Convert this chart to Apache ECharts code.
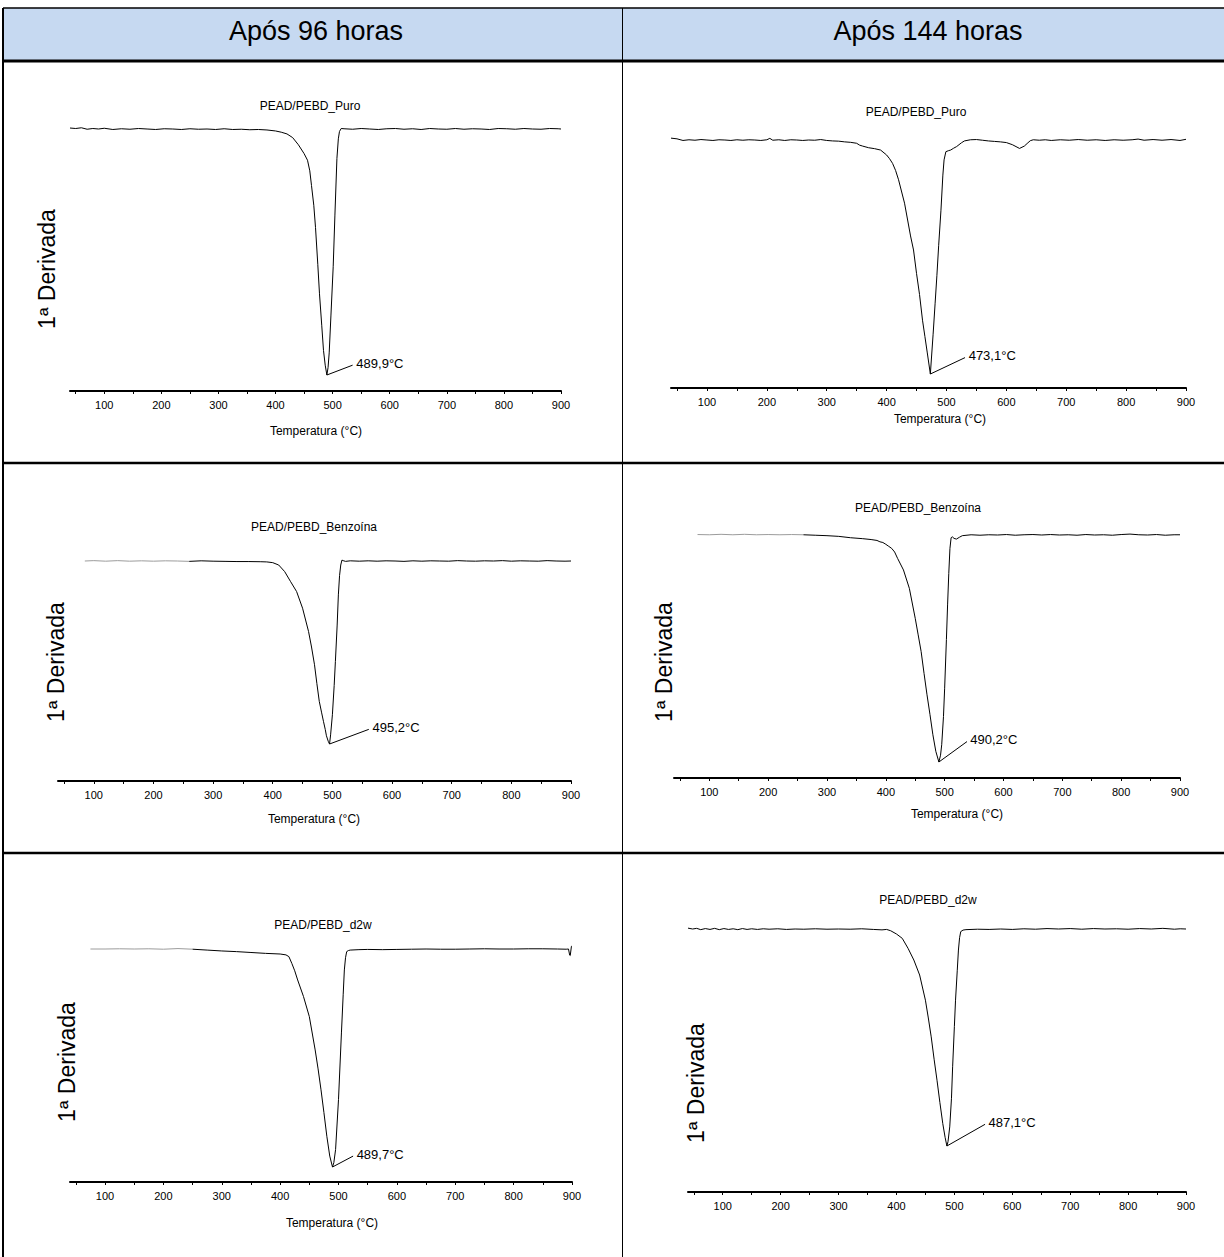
<!DOCTYPE html>
<html><head><meta charset="utf-8">
<script src="https://cdn.jsdelivr.net/npm/echarts@6/dist/echarts.min.js"></script>
<style>html,body{margin:0;padding:0;background:#fff}#c{width:1224px;height:1257px}</style>
</head><body><div id="c"></div>
<script>
// ---------- DATA ----------
const headers = ['Após 96 horas', 'Após 144 horas'];
const titles = ['PEAD/PEBD_Puro', 'PEAD/PEBD_Puro', 'PEAD/PEBD_Benzoína', 'PEAD/PEBD_Benzoína', 'PEAD/PEBD_d2w', 'PEAD/PEBD_d2w'];
const peakLabels = ['489,9°C', '473,1°C', '495,2°C', '490,2°C', '489,7°C', '487,1°C'];
const yName = '1ª Derivada';
const xName = 'Temperatura (°C)';
const xTicks = [100, 200, 300, 400, 500, 600, 700, 800, 900];
const xMinorTicks = [50, 100, 150, 200, 250, 300, 350, 400, 450, 500, 550, 600, 650, 700, 750, 800, 850, 900];

// [temperature °C, normalised 1st derivative]
const puro96 = [[40,0.004],[50,0.002],[60,0.005],[70,-0.001],[80,0.002],[90,0],[100,0.003],[115,-0.002],[130,0.001],[145,-0.001],[160,0.002],[175,0],[190,-0.002],[205,0.001],[220,0],[235,-0.002],[250,0.001],[265,-0.001],[280,0],[295,-0.002],[310,0.001],[325,-0.002],[340,-0.001],[355,-0.003],[370,-0.002],[385,-0.004],[400,-0.008],[410,-0.013],[420,-0.02],[430,-0.035],[440,-0.064],[450,-0.1],[456,-0.127],[460,-0.17],[463,-0.23],[467,-0.31],[470,-0.40],[474,-0.55],[477,-0.67],[481,-0.80],[484,-0.90],[487,-0.96],[489.9,-1.0],[492,-0.97],[494,-0.91],[497,-0.76],[501,-0.56],[504,-0.35],[507.5,-0.12],[510,-0.04],[512,-0.01],[515,0.002],[520,0.001],[535,-0.001],[550,0.002],[565,0],[580,-0.002],[595,0.001],[610,0.002],[625,-0.001],[640,0.001],[655,-0.002],[670,0.002],[685,0],[700,-0.001],[715,0.002],[730,-0.001],[745,0.001],[760,0],[775,-0.002],[790,0.002],[805,0.001],[820,-0.001],[835,0.002],[850,0],[865,-0.001],[880,0.002],[895,0.001],[900,0]];
const puro144 = [[40,0.008],[50,0.005],[60,-0.002],[70,0.001],[80,-0.001],[90,0.002],[100,0],[110,-0.002],[120,0.001],[130,0],[140,-0.002],[150,0.001],[160,-0.001],[170,0.001],[180,0],[190,-0.002],[200,0.001],[205,0.007],[210,-0.001],[220,0.001],[230,-0.002],[240,0.001],[250,0],[260,-0.002],[270,0],[280,-0.001],[290,0.002],[300,-0.002],[310,-0.004],[320,-0.005],[330,-0.008],[340,-0.01],[350,-0.014],[355,-0.022],[360,-0.026],[370,-0.033],[380,-0.037],[390,-0.043],[400,-0.064],[405,-0.08],[410,-0.1],[415,-0.13],[420,-0.17],[430,-0.27],[440,-0.41],[445,-0.47],[450,-0.57],[455,-0.66],[460,-0.77],[464,-0.84],[468,-0.91],[473.1,-1.0],[477.7,-0.83],[481,-0.70],[484,-0.58],[487,-0.45],[490.8,-0.30],[494,-0.15],[496,-0.085],[499,-0.05],[503,-0.046],[507,-0.043],[512,-0.035],[517,-0.028],[525,-0.012],[530,-0.004],[540,0.001],[550,0.002],[560,-0.001],[570,-0.004],[580,-0.006],[590,-0.008],[600,-0.011],[610,-0.02],[622,-0.036],[630,-0.026],[636,-0.012],[640,-0.003],[645,0.001],[655,-0.001],[665,0.001],[675,-0.002],[690,0.001],[705,-0.001],[720,0.002],[735,-0.001],[750,0.001],[765,-0.002],[780,0.001],[795,-0.001],[810,0.001],[820,0.004],[830,-0.001],[845,0.002],[860,-0.001],[875,0.002],[890,-0.002],[900,0.003]];
const benz96 = [[85,0],[100,0.002],[120,-0.001],[140,0.002],[160,-0.001],[180,0.001],[200,-0.001],[220,0.001],[240,0],[260,-0.002],[280,0.001],[300,-0.001],[320,-0.002],[340,-0.003],[360,-0.003],[380,-0.004],[390,-0.005],[400,-0.009],[410,-0.022],[420,-0.058],[430,-0.113],[440,-0.167],[450,-0.258],[460,-0.385],[465,-0.47],[470,-0.567],[474,-0.67],[478,-0.767],[482,-0.83],[485,-0.876],[488,-0.92],[490,-0.955],[493,-0.985],[495.2,-1.0],[497,-0.95],[500,-0.84],[503,-0.68],[505,-0.55],[508,-0.35],[510,-0.185],[512,-0.08],[514,-0.022],[516,0.005],[518,0.002],[522,-0.002],[530,0.001],[545,-0.001],[560,0.001],[575,-0.001],[590,0.001],[605,0],[620,-0.002],[635,0.001],[650,-0.001],[665,0.001],[680,0],[695,-0.001],[710,0.002],[725,0],[740,-0.001],[755,0.001],[770,0],[785,0.002],[800,-0.001],[815,0.001],[830,0],[845,-0.001],[860,0.002],[875,0],[890,-0.001],[900,0]];
const benz144 = [[80,0.002],[100,0.001],[120,0.003],[140,0.001],[160,0.003],[180,0.001],[200,0.002],[220,0.001],[240,0.002],[260,0.001],[280,-0.001],[300,-0.003],[320,-0.006],[340,-0.012],[360,-0.016],[375,-0.02],[385,-0.024],[390,-0.03],[395,-0.033],[400,-0.041],[405,-0.05],[410,-0.059],[415,-0.075],[420,-0.103],[430,-0.154],[440,-0.235],[450,-0.367],[455,-0.44],[460,-0.513],[465,-0.61],[470,-0.704],[475,-0.79],[480,-0.88],[485,-0.953],[490.2,-1.0],[493,-0.97],[495,-0.924],[498,-0.8],[500,-0.675],[503,-0.46],[505,-0.308],[507,-0.17],[509,-0.059],[511,-0.012],[513,-0.008],[516,-0.015],[520,-0.018],[525,-0.01],[530,-0.003],[545,0.001],[560,-0.001],[575,0.001],[590,0],[605,0.002],[620,-0.001],[635,0.001],[650,0.002],[665,0],[680,0.002],[695,0],[710,0.001],[725,-0.001],[740,0.002],[755,0],[770,0.001],[785,-0.001],[800,0.002],[815,0.004],[830,0.001],[845,0],[860,0.002],[875,-0.001],[890,0.001],[900,0.001]];
const d2w96 = [[75,0],[100,0],[125,0.001],[150,0],[175,0.001],[200,-0.001],[225,0.002],[250,-0.001],[275,-0.005],[300,-0.009],[325,-0.012],[350,-0.016],[375,-0.02],[400,-0.023],[410,-0.027],[415,-0.035],[420,-0.066],[425,-0.1],[430,-0.142],[440,-0.218],[450,-0.31],[460,-0.463],[465,-0.55],[470,-0.646],[475,-0.75],[480,-0.859],[485,-0.95],[489.7,-1.0],[492,-0.98],[495,-0.92],[500,-0.69],[505,-0.385],[508,-0.21],[510,-0.096],[512,-0.04],[514,-0.012],[517,-0.007],[520,-0.005],[535,-0.003],[550,-0.002],[575,-0.003],[600,-0.002],[625,-0.001],[650,0],[675,-0.001],[700,-0.001],[725,0],[750,0.001],[775,0],[800,0],[825,0.001],[850,0.001],[875,0],[890,-0.001],[894,0],[896,-0.028],[897,-0.03],[899,0.012],[900,0.014]];
const d2w144 = [[40,0.004],[48,0],[55,0.003],[62,-0.003],[70,0.002],[78,-0.002],[86,0.003],[94,-0.003],[102,0.002],[110,-0.002],[118,0.001],[126,-0.003],[134,0.002],[142,-0.002],[150,0.001],[160,-0.002],[170,0.001],[180,-0.001],[195,0.001],[210,-0.002],[225,0],[240,-0.001],[260,0.001],[280,-0.001],[300,0],[320,-0.001],[340,0.001],[360,-0.002],[375,-0.004],[383,-0.002],[390,-0.008],[400,-0.023],[410,-0.043],[420,-0.089],[430,-0.143],[440,-0.212],[450,-0.328],[455,-0.41],[460,-0.497],[465,-0.6],[470,-0.697],[475,-0.8],[480,-0.897],[484,-0.96],[487.1,-1.0],[489,-0.98],[492,-0.912],[495,-0.78],[497,-0.635],[500,-0.45],[502,-0.328],[505,-0.19],[507,-0.097],[509,-0.04],[511,-0.012],[515,-0.005],[520,-0.003],[540,-0.001],[560,-0.002],[580,0],[600,-0.002],[620,0.001],[640,-0.001],[660,0.002],[680,0],[700,0.002],[720,-0.001],[740,0.002],[760,0],[780,0.001],[800,-0.001],[820,0.002],[840,0],[860,0.003],[880,-0.001],[890,0.001],[900,0]];

// ---------- LAYOUT ----------
const FONT = "'Liberation Sans', Arial, sans-serif";
const panels = [
  {data: puro96,  L: 70,  R: 561,  axisY: 391,  baseY: 129, peakY: 375,  tx: 310, ty: 106, xt: [316, 431],  yl: [47, 269],   lead: [535, -0.96], grayTo: null},
  {data: puro144, L: 671, R: 1186, axisY: 388,  baseY: 140, peakY: 374,  tx: 916, ty: 112, xt: [940, 419],  yl: null,        lead: [531, -0.93], grayTo: null},
  {data: benz96,  L: 58,  R: 571,  axisY: 781,  baseY: 561, peakY: 744,  tx: 314, ty: 527, xt: [314, 819],  yl: [56, 662],   lead: [561, -0.92], grayTo: 260},
  {data: benz144, L: 674, R: 1180, axisY: 778,  baseY: 535, peakY: 762,  tx: 918, ty: 508, xt: [957, 814],  yl: [664, 662],  lead: [538, -0.91], grayTo: 260},
  {data: d2w96,   L: 70,  R: 572,  axisY: 1182, baseY: 949, peakY: 1167, tx: 323, ty: 925, xt: [332, 1223], yl: [67, 1062],  lead: [525, -0.95], grayTo: 250},
  {data: d2w144,  L: 688, R: 1186, axisY: 1192, baseY: 929, peakY: 1146, tx: 928, ty: 900, xt: null,        yl: [696, 1083], lead: [553, -0.90], grayTo: null}
];

const grid = [], xAxis = [], yAxis = [], series = [], graphic = [];

// table
graphic.push({type: 'rect', shape: {x: 3, y: 8, width: 1221, height: 53}, style: {fill: '#c6d9f1'}, z: 0});
const hLine = (y, w) => graphic.push({type: 'line', shape: {x1: 3, y1: y, x2: 1224, y2: y}, style: {stroke: '#000', lineWidth: w}, z: 5});
hLine(8, 1.5); hLine(61, 3); hLine(463, 2.5); hLine(853, 2.5);
graphic.push({type: 'line', shape: {x1: 3, y1: 8, x2: 3, y2: 1257}, style: {stroke: '#000', lineWidth: 2}, z: 5});
graphic.push({type: 'line', shape: {x1: 622.5, y1: 8, x2: 622.5, y2: 1257}, style: {stroke: '#000', lineWidth: 1}, z: 5});
const txt = (x, y, text, size, rot) => graphic.push({type: 'text', x: x, y: y, rotation: rot || 0, z: 6,
  style: {text: text, fontSize: size, fontFamily: FONT, fill: '#000', align: 'center', verticalAlign: 'middle', textAlign: 'center', textVerticalAlign: 'middle'}});
txt(316, 31, headers[0], 27);
txt(928, 31, headers[1], 27);

panels.forEach((p, i) => {
  const unit = p.peakY - p.baseY;
  const yMax = 0.2;
  const yMin = -(p.axisY - p.baseY) / unit;
  const top = p.baseY - yMax * unit;
  grid.push({left: p.L, width: p.R - p.L, top: top, height: p.axisY - top, containLabel: false});
  xAxis.push({gridIndex: i, type: 'value', min: 40, max: 900,
    axisLine: {show: true, onZero: false, lineStyle: {color: '#000', width: 2}},
    axisTick: {show: true, customValues: xMinorTicks, length: 3, inside: false, lineStyle: {color: '#000', width: 1}},
    axisLabel: {show: true, customValues: xTicks, color: '#000', fontSize: 11, fontFamily: FONT, margin: 8},
    splitLine: {show: false}});
  yAxis.push({gridIndex: i, type: 'value', min: yMin, max: yMax, show: false, splitLine: {show: false}});
  let pk = p.data[0];
  p.data.forEach(d => { if (d[1] < pk[1]) pk = d; });
  const dark = p.grayTo ? p.data.filter(d => d[0] >= p.grayTo) : p.data;
  if (p.grayTo) {
    series.push({type: 'line', xAxisIndex: i, yAxisIndex: i, data: p.data.filter(d => d[0] <= p.grayTo),
      showSymbol: false, symbol: 'none', lineStyle: {color: '#9c9c9c', width: 1}, animation: false, silent: true});
  }
  series.push({type: 'line', xAxisIndex: i, yAxisIndex: i, data: dark, showSymbol: false, symbol: 'none',
    lineStyle: {color: '#000', width: 1}, animation: false, silent: true,
    markLine: {silent: true, symbol: ['none', 'none'], animation: false,
      lineStyle: {color: '#000', width: 1, type: 'solid'},
      label: {show: true, position: 'end', distance: 4, formatter: peakLabels[i], color: '#000', fontSize: 13, fontFamily: FONT},
      data: [[{coord: [pk[0], pk[1]]}, {coord: p.lead}]]}});
  txt(p.tx, p.ty, titles[i], 12);
  if (p.xt) txt(p.xt[0], p.xt[1], xName, 12);
  if (p.yl) txt(p.yl[0], p.yl[1], yName, 23, Math.PI / 2);
});

const chart = echarts.init(document.getElementById('c'), null, {renderer: 'svg', width: 1224, height: 1257});
chart.setOption({backgroundColor: '#fff', animation: false, grid, xAxis, yAxis, series, graphic});
</script>
</body></html>
